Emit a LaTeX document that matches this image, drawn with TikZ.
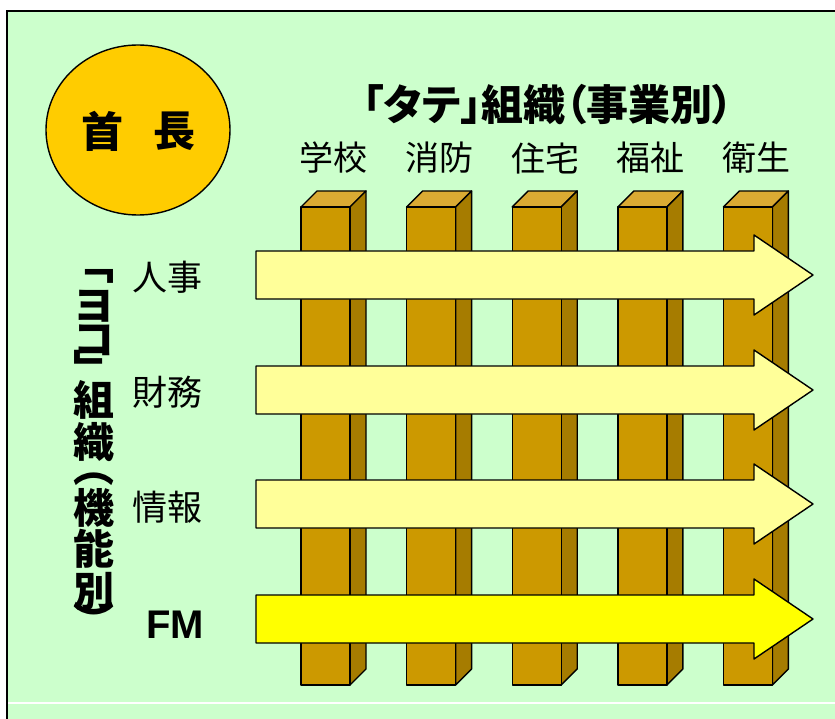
\documentclass[tikz,border=0pt]{standalone}
\usepackage{fontspec}
\setmainfont{Liberation Sans}
\newfontfamily\jp{Noto Sans CJK JP}
\newfontfamily\jpp{Noto Sans CJK JP}[RawFeature=+palt]
\usetikzlibrary{shapes.geometric}
\definecolor{bggreen}{RGB}{204,255,204}
\definecolor{chiefcol}{RGB}{255,204,0}
\definecolor{postfront}{RGB}{204,153,0}
\definecolor{postside}{RGB}{166,124,0}
\definecolor{posttop}{RGB}{218,170,51}
\definecolor{arrowlight}{RGB}{255,255,153}
\definecolor{arrowfm}{RGB}{255,255,0}
\newcommand{\vcen}[1]{\raisebox{\dimexpr(\depth-\height)/2\relax}[0pt][0pt]{#1}}
\tikzset{
  edge/.style={draw=black, line width=1.4pt, line join=round},
  ttl/.style={font=\jpp\bfseries\fontsize{42}{44}\selectfont, inner sep=0pt},
  sub/.style={font=\jp\fontsize{34}{36}\selectfont, inner sep=0pt},
  lab/.style={font=\jp\fontsize{35}{37}\selectfont, inner sep=0pt},
  vcol/.style={font=\jp\bfseries\fontsize{41}{0}\selectfont, inner sep=0pt, align=center, anchor=north},
  chiefch/.style={font=\jp\bfseries\fontsize{42}{44}\selectfont, inner sep=0pt}
}
\begin{document}
\begin{tikzpicture}[x=1pt,y=-1pt]
\useasboundingbox (0,0) rectangle (835,719);
\fill[white] (0,0) rectangle (835,719);
\fill[bggreen] (7,11) rectangle (845,730);
\draw[line width=1.5pt] (7,730) -- (7,11) -- (845,11);
\draw[white, line width=1.5pt] (8,703) -- (845,703);
% chief
\node[ellipse, edge, fill=chiefcol, minimum width=184pt, minimum height=170pt, inner sep=0pt] (chief) at (138,130) {};
\node[chiefch] (c1) at (102,131) {首};
\node[chiefch] (c2) at (174,131) {長};
% title
\node[ttl] (title) at (548,105) {「タテ」組織（事業別）};
\foreach \t/\x [count=\k] in {学校/333,消防/439,住宅/545,福祉/650,衛生/756}
  \node[sub] (s\k) at (\x,158) {\t};
% posts
\foreach \i in {0,...,4}{
  \pgfmathsetmacro\L{301+105.6*\i}
  \pgfmathsetmacro\R{\L+49}
  \pgfmathsetmacro\D{\L+65}
  \pgfmathsetmacro\B{\L+16}
  \filldraw[edge, fill=posttop] (\L,207) -- (\B,191) -- (\D,191) -- (\R,207) -- cycle;
  \filldraw[edge, fill=postside] (\R,207) -- (\D,191) -- (\D,669) -- (\R,685) -- cycle;
  \filldraw[edge, fill=postfront] (\L,207) rectangle (\R,685);
}
% arrows
\foreach \y/\c in {275/arrowlight,390/arrowlight,504/arrowlight,619/arrowfm}{
  \filldraw[edge, fill=\c] (256,\y-24) -- (754,\y-24) -- (754,\y-40) -- (813,\y) -- (754,\y+40) -- (754,\y+24) -- (256,\y+24) -- cycle;
}
% labels
\node[lab] (l1) at (167,277) {人事};
\node[lab] (l2) at (167,392) {財務};
\node[lab] (l3) at (167,507) {情報};
\node[font=\bfseries\fontsize{40}{42}\selectfont, inner sep=0pt] (l4) at (175,625) {FM};
% vertical title
\node[vcol] (ycol) at (94,276) {\vcen{﹁}\\[30pt]\vcen{ヨ}\\[34pt]\vcen{コ}\\[27pt]\vcen{﹂}\\[33pt]\vcen{組}\\[42pt]\vcen{織}\\[37pt]\vcen{︵}\\[29pt]\vcen{機}\\[41pt]\vcen{能}\\[42pt]\vcen{別}\\[28pt]\vcen{︶}};
\end{tikzpicture}
\end{document}
